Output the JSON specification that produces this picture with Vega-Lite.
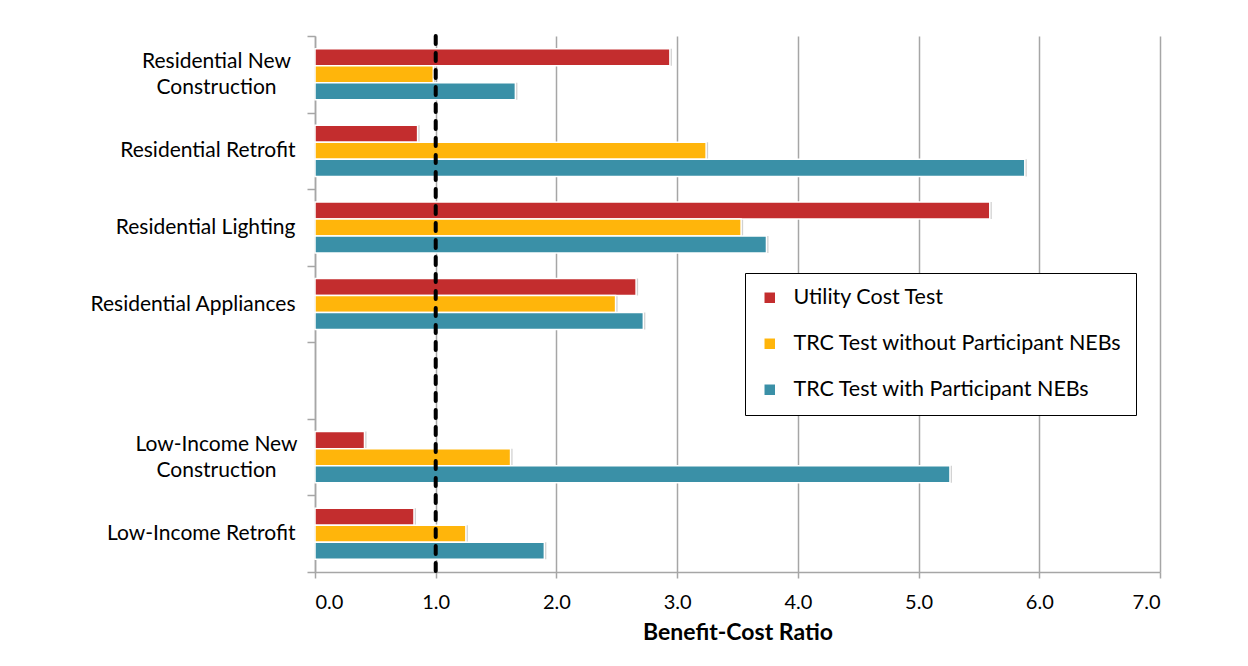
{
  "$schema": "https://vega.github.io/schema/vega-lite/v6.json",
  "width": 845,
  "height": 536,
  "autosize": {"type": "none"},
  "padding": {"left": 315, "top": 36, "right": 88, "bottom": 94},
  "background": "white",
  "config": {
    "font": "Lato",
    "view": {"stroke": null}
  },
  "datasets": {
    "ratios": [
      {"program": "Residential New Construction", "test": "Utility Cost Test", "ratio": 2.94},
      {"program": "Residential New Construction", "test": "TRC Test without Participant NEBs", "ratio": 0.98},
      {"program": "Residential New Construction", "test": "TRC Test with Participant NEBs", "ratio": 1.66},
      {"program": "Residential Retrofit", "test": "Utility Cost Test", "ratio": 0.85},
      {"program": "Residential Retrofit", "test": "TRC Test without Participant NEBs", "ratio": 3.24},
      {"program": "Residential Retrofit", "test": "TRC Test with Participant NEBs", "ratio": 5.88},
      {"program": "Residential Lighting", "test": "Utility Cost Test", "ratio": 5.59},
      {"program": "Residential Lighting", "test": "TRC Test without Participant NEBs", "ratio": 3.53},
      {"program": "Residential Lighting", "test": "TRC Test with Participant NEBs", "ratio": 3.74},
      {"program": "Residential Appliances", "test": "Utility Cost Test", "ratio": 2.66},
      {"program": "Residential Appliances", "test": "TRC Test without Participant NEBs", "ratio": 2.49},
      {"program": "Residential Appliances", "test": "TRC Test with Participant NEBs", "ratio": 2.72},
      {"program": "Low-Income New Construction", "test": "Utility Cost Test", "ratio": 0.41},
      {"program": "Low-Income New Construction", "test": "TRC Test without Participant NEBs", "ratio": 1.62},
      {"program": "Low-Income New Construction", "test": "TRC Test with Participant NEBs", "ratio": 5.26},
      {"program": "Low-Income Retrofit", "test": "Utility Cost Test", "ratio": 0.82},
      {"program": "Low-Income Retrofit", "test": "TRC Test without Participant NEBs", "ratio": 1.25},
      {"program": "Low-Income Retrofit", "test": "TRC Test with Participant NEBs", "ratio": 1.9}
    ],
    "breakeven": [{"ratio": 1}]
  },
  "layer": [
    {
      "data": {"name": "ratios"},
      "mark": {"type": "bar", "color": "#7a7a7a", "opacity": 0.35, "xOffset": 2},
      "encoding": {
        "y": {"field": "program", "type": "nominal"},
        "yOffset": {"field": "test", "type": "nominal"},
        "x": {"field": "ratio", "type": "quantitative"}
      }
    },
    {
      "data": {"name": "ratios"},
      "mark": {"type": "bar", "stroke": "white", "strokeWidth": 1.5},
      "encoding": {
        "y": {
          "field": "program",
          "type": "nominal",
          "scale": {
            "domain": ["Residential New Construction", "Residential Retrofit", "Residential Lighting", "Residential Appliances", " ", "Low-Income New Construction", "Low-Income Retrofit"],
            "paddingInner": 0,
            "paddingOuter": 0
          },
          "axis": {
            "title": null,
            "grid": false,
            "tickBand": "extent",
            "tickSize": 8,
            "tickColor": "#a6a6a6",
            "tickWidth": 1.5,
            "domainColor": "#a6a6a6",
            "domainWidth": 1.5,
            "labelFontSize": 21,
            "labelColor": "#000000",
            "labelLimit": 320,
            "labelLineHeight": 26,
            "labelPadding": {"condition": {"test": "test(/Construction/, datum.value)", "value": 91}, "value": 12},
            "labelOffset": {"condition": {"test": "test(/Construction/, datum.value)", "value": -13}, "value": 0},
            "labelAlign": {"condition": {"test": "test(/Construction/, datum.value)", "value": "center"}, "value": "right"},
            "labelExpr": "test(/Construction/, datum.value) ? [replace(datum.value, ' Construction', ''), 'Construction'] : datum.value"
          }
        },
        "yOffset": {
          "field": "test",
          "type": "nominal",
          "scale": {
            "domain": ["Utility Cost Test", "TRC Test without Participant NEBs", "TRC Test with Participant NEBs"],
            "paddingInner": 0,
            "paddingOuter": 0.75
          }
        },
        "x": {
          "field": "ratio",
          "type": "quantitative",
          "scale": {"domain": [0, 7], "nice": false, "zero": true},
          "axis": {
            "values": [0, 1, 2, 3, 4, 5, 6, 7],
            "format": ".1f",
            "grid": true,
            "gridColor": "#a6a6a6",
            "gridWidth": 1.5,
            "tickSize": 6,
            "tickColor": "#a6a6a6",
            "tickWidth": 1.5,
            "domainColor": "#a6a6a6",
            "domainWidth": 1.5,
            "labelFontSize": 20,
            "labelColor": "#000000",
            "labelPadding": 14,
            "title": "Benefit-Cost Ratio",
            "titleFontSize": 23,
            "titleFontWeight": "bold",
            "titleColor": "#000000",
            "titlePadding": 9
          }
        },
        "color": {
          "field": "test",
          "type": "nominal",
          "scale": {
            "domain": ["Utility Cost Test", "TRC Test without Participant NEBs", "TRC Test with Participant NEBs"],
            "range": ["#C32D2E", "#FFB50B", "#3A90A7"]
          },
          "legend": {
            "title": null,
            "orient": "none",
            "legendX": 430,
            "legendY": 237,
            "direction": "vertical",
            "symbolType": "square",
            "symbolSize": 110,
            "symbolStrokeWidth": 0,
            "labelFontSize": 21.5,
            "labelColor": "#000000",
            "labelOffset": 13,
            "labelLimit": 400,
            "rowPadding": 23,
            "padding": 14,
            "strokeColor": "#000000",
            "fillColor": "#ffffff"
          }
        }
      }
    },
    {
      "data": {"name": "breakeven"},
      "mark": {"type": "rule", "color": "#000000", "strokeWidth": 4, "strokeDash": [8, 9], "strokeCap": "round"},
      "encoding": {
        "x": {"field": "ratio", "type": "quantitative"}
      }
    }
  ]
}
